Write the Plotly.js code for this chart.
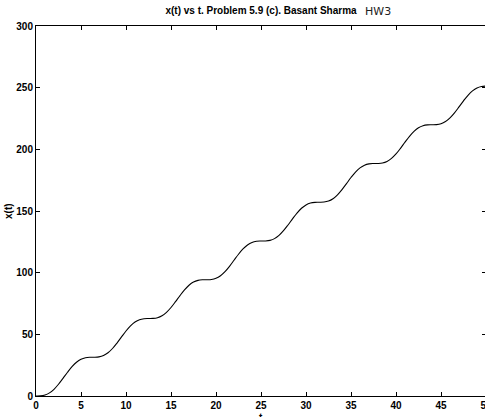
<!DOCTYPE html>
<html>
<head>
<meta charset="utf-8">
<script src="https://cdn.plot.ly/plotly-3.0.1.min.js"></script>
<style>
html,body{margin:0;padding:0;background:#fff;overflow:hidden;}
#chart{width:488px;height:417px;}
</style>
</head>
<body>
<div id="chart"></div>
<script>
const t = [0,0.5,1,1.5,2,2.5,3,3.5,4,4.5,5,5.5,6,6.5,7,7.5,8,8.5,9,9.5,10,10.5,11,11.5,12,12.5,13,13.5,14,14.5,15,15.5,16,16.5,17,17.5,18,18.5,19,19.5,20,20.5,21,21.5,22,22.5,23,23.5,24,24.5,25,25.5,26,26.5,27,27.5,28,28.5,29,29.5,30,30.5,31,31.5,32,32.5,33,33.5,34,34.5,35,35.5,36,36.5,37,37.5,38,38.5,39,39.5,40,40.5,41,41.5,42,42.5,43,43.5,44,44.5,45,45.5,46,46.5,47,47.5,48,48.5,49,49.5,50];
const xt = [0,0.10,0.79,2.51,5.45,9.51,14.29,19.25,23.78,27.39,29.79,31.03,31.40,31.42,31.72,32.81,35.05,38.51,42.94,47.88,52.72,56.90,60.00,61.88,62.68,62.83,62.90,63.48,65.05,67.83,71.75,76.47,81.44,86.06,89.81,92.38,93.76,94.21,94.25,94.47,95.44,97.52,100.82,105.14,110.04,114.94,119.23,122.49,124.53,125.46,125.66,125.70,126.19,127.60,130.22,134.00,138.65,143.62,148.32,152.21,154.94,156.47,157.02,157.08,157.24,158.08,160.00,163.14,167.35,172.21,177.14,181.55,184.96,187.16,188.22,188.49,188.52,188.91,190.18,192.63,196.27,200.83,205.79,210.56,214.58,217.48,219.16,219.82,219.91,220.03,220.75,222.50,225.49,229.58,234.38,239.34,243.84,247.41,249.77,250.97,251.31];
const xTicks = [0,5,10,15,20,25,30,35,40,45,50];
const yTicks = [0,50,100,150,200,250,300];
const titleText = 'x(t) vs t. Problem 5.9 (c). Basant Sharma';
const noteText = 'HW3';
const xLabel = 't';
const yLabel = 'x(t)';

const fontFam = '"Liberation Sans", Arial, Helvetica, sans-serif';
const data = [{
  x: t, y: xt, type: 'scatter', mode: 'lines',
  line: {color: '#000', width: 1.1, shape: 'spline'},
  hoverinfo: 'skip'
}];
const axisCommon = {
  showgrid: false, zeroline: false, showline: true, linecolor: '#000', linewidth: 1,
  ticks: 'inside', ticklen: 4, tickcolor: '#000', mirror: 'ticks',
  ticklabeloverflow: 'allow',
  tickfont: {family: fontFam, size: 10, color: '#000', weight: 'bold'}
};
const layout = {
  width: 488, height: 417,
  margin: {l: 36, r: 2, t: 26, b: 21},
  paper_bgcolor: '#fff', plot_bgcolor: '#fff',
  showlegend: false,
  title: {text: titleText, font: {family: fontFam, size: 10, color: '#000', weight: 'bold'},
          x: 0.5, xref: 'paper', xanchor: 'center', y: 1, yref: 'paper', yanchor: 'bottom', pad: {b: 12}},
  xaxis: Object.assign({}, axisCommon, {range: [0, 50], tickvals: xTicks, ticktext: xTicks.map(String)}),
  yaxis: Object.assign({}, axisCommon, {range: [0, 300], tickvals: yTicks, ticktext: yTicks.map(String)}),
  annotations: [
    {text: noteText, xref: 'paper', yref: 'paper', x: 0.7267, y: 1, yanchor: 'middle', xanchor: 'left',
     yshift: 15, showarrow: false,
     font: {family: '"DejaVu Sans", sans-serif', size: 11, color: '#222'}},
    {text: xLabel, xref: 'paper', yref: 'paper', x: 0.5, y: 0, yanchor: 'top', xanchor: 'center',
     yshift: -14, showarrow: false,
     font: {family: fontFam, size: 10, color: '#000', weight: 'bold'}},
    {text: yLabel, xref: 'paper', yref: 'paper', x: -0.0622, y: 0.5, yanchor: 'middle', xanchor: 'center',
     textangle: -90, showarrow: false,
     font: {family: fontFam, size: 10, color: '#000', weight: 'bold'}}
  ]
};
Plotly.newPlot('chart', data, layout, {displayModeBar: false, staticPlot: true});
</script>
</body>
</html>
